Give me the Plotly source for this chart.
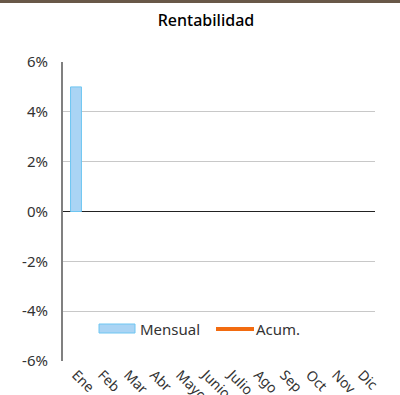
import plotly.graph_objects as go

# Monthly and cumulative returns (%)
months = ["Ene", "Feb", "Mar", "Abr", "Mayo", "Junio", "Julio", "Ago", "Sep", "Oct", "Nov", "Dic"]
mensual = [5.0, None, None, None, None, None, None, None, None, None, None, None]
acum = [5.0, None, None, None, None, None, None, None, None, None, None, None]
y_ticks = [-6, -4, -2, 0, 2, 4, 6]
y_tick_text = ["-6%", "-4%", "-2%", "0%", "2%", "4%", "6%"]

BAR_FILL = "#aad4f4"
BAR_LINE = "#6ec6f2"
ACUM_COLOR = "#f26b10"
FONT = "Noto Sans"

fig = go.Figure()
fig.add_trace(go.Bar(
    x=months, y=mensual, name="Mensual",
    marker=dict(color=BAR_FILL, line=dict(color=BAR_LINE, width=1)),
    width=0.42, showlegend=False,
))
fig.add_trace(go.Scatter(
    x=months, y=acum, name="Acum.", mode="lines",
    line=dict(color=ACUM_COLOR, width=4), showlegend=False,
))

# Legend drawn inside the plot area
legend_shapes = [
    dict(type="rect", xref="paper", yref="paper",
         x0=(99 - 63) / 312, x1=(135 - 63) / 312,
         y0=(361 - 333) / 299, y1=(361 - 324) / 299,
         fillcolor=BAR_FILL, line=dict(color=BAR_LINE, width=1)),
    dict(type="line", xref="paper", yref="paper",
         x0=(216 - 63) / 312, x1=(254 - 63) / 312,
         y0=(361 - 329) / 299, y1=(361 - 329) / 299,
         line=dict(color=ACUM_COLOR, width=4)),
    # top band
    dict(type="rect", xref="paper", yref="paper",
         x0=-63 / 312, x1=(400 - 63) / 312,
         y0=(361 - 3) / 299, y1=(361 + 10) / 299 + 1,
         fillcolor="#685848", line=dict(width=0)),
]
legend_text = [
    dict(text="Mensual", xref="paper", yref="paper",
         x=(138 - 63) / 312, y=(361 - 329) / 299, xanchor="left", yanchor="middle",
         showarrow=False, font=dict(family=FONT, size=15, color="#333333")),
    dict(text="Acum.", xref="paper", yref="paper",
         x=(254 - 63) / 312, y=(361 - 329) / 299, xanchor="left", yanchor="middle",
         showarrow=False, font=dict(family=FONT, size=15, color="#333333")),
]

fig.update_layout(
    width=400, height=395,
    margin=dict(l=63, r=25, t=62, b=34, autoexpand=False),
    paper_bgcolor="white", plot_bgcolor="white",
    title=dict(text="Rentabilidad", x=206 / 400, xanchor="center",
               y=1 - 20 / 395, yanchor="middle",
               font=dict(family=FONT, size=16, color="#000000", weight=500)),
    font=dict(family=FONT, size=15, color="#333333"),
    shapes=legend_shapes, annotations=legend_text,
    bargap=0.58,
)
fig.update_xaxes(
    type="category", tickangle=45, showgrid=False, showline=False,
    ticks="", ticklabelstandoff=2,
    tickfont=dict(family=FONT, size=14, color="#333333"),
    automargin=False,
)
fig.update_yaxes(
    range=[-6, 6], tickvals=y_ticks, ticktext=y_tick_text,
    showgrid=True, gridcolor="#c8c8c8", gridwidth=1,
    zeroline=True, zerolinecolor="#222222", zerolinewidth=1,
    showline=True, linecolor="#808080", linewidth=2,
    ticks="", ticklabelstandoff=10,
    tickfont=dict(family=FONT, size=15, color="#333333"),
    automargin=False,
)

fig.write_html("out.html")
